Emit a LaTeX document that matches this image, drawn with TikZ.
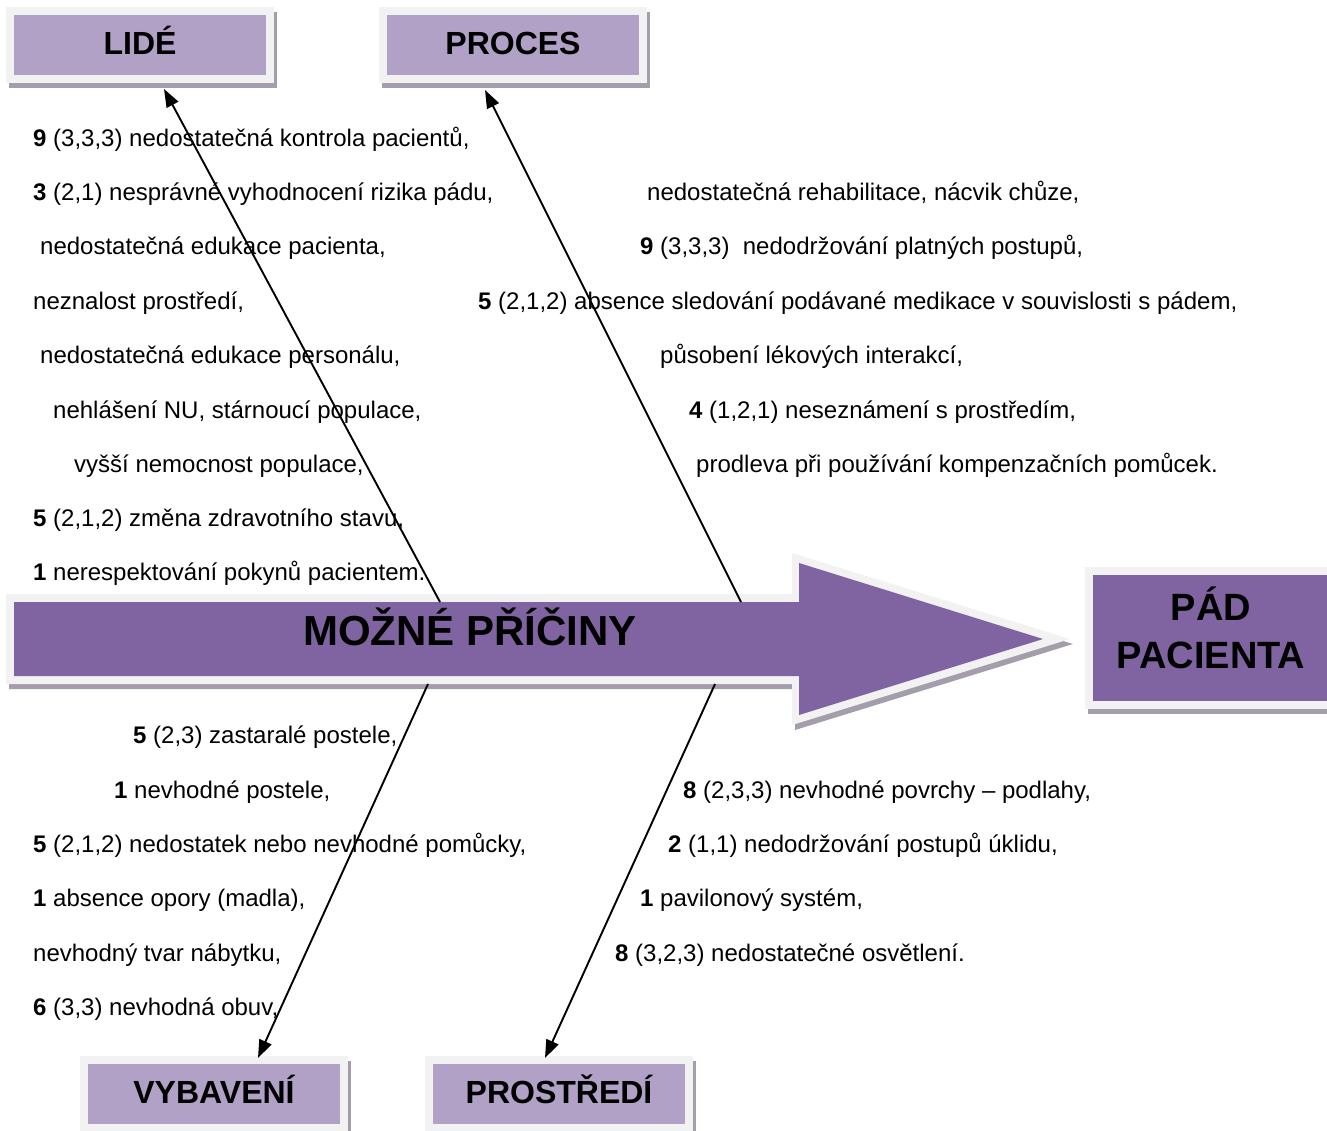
\documentclass[tikz,border=0pt]{standalone}
\usepackage{fontspec}
\setmainfont{Liberation Sans}
\usetikzlibrary{arrows.meta,shadows}
\definecolor{framegray}{RGB}{242,242,242}
\definecolor{shadegray}{RGB}{163,157,172}
\definecolor{catpurple}{RGB}{178,161,199}
\definecolor{mainpurple}{RGB}{128,100,162}

\begin{document}
\begin{tikzpicture}[x=1pt,y=-1pt,
  % light frame with a purple panel inset by 8pt and a soft grey shadow
  panel/.style={fill=framegray, inner sep=0pt,
    drop shadow={shadow xshift=3pt, shadow yshift=-5pt, fill=shadegray, opacity=1},
    path picture={\fill[#1] ([shift={(8pt,8pt)}]path picture bounding box.south west)
      rectangle ([shift={(-8pt,-8pt)}]path picture bounding box.north east);}},
  catbox/.style={panel=catpurple, minimum width=268pt, minimum height=76pt,
    text height=23pt, text depth=4pt,
    font=\bfseries\fontsize{32}{36}\selectfont},
  causetext/.style={anchor=base west, inner sep=0pt, font=\fontsize{24}{28}\selectfont},
  bone/.style={line width=1.9pt, -{Triangle[length=18pt,width=13pt]}}
]
\useasboundingbox (0,0) rectangle (1327,1130);

% category boxes
\node[catbox] (lide)   at (140,45)   {LIDÉ};
\node[catbox] (proces) at (513,45)   {PROCES};
\node[catbox] (vyb)    at (214,1094) {VYBAVENÍ};
\node[catbox] (pros)   at (559,1094) {PROSTŘEDÍ};

% outcome box
\node[panel=mainpurple, minimum width=250pt, minimum height=142pt] (pad) at (1210,638) {};
\node[align=center, inner sep=0pt, font=\bfseries\fontsize{38}{48}\selectfont] (padtext) at (1211,628) {PÁD\\PACIENTA};

% main spine arrow: shadow, light frame, purple body
\fill[shadegray, shift={(3,5)}] (6,594) -- (792,594) -- (792,553) -- (1070,639)
  -- (792,725) -- (792,684) -- (6,684) -- cycle;
\fill[framegray] (6,594) -- (792,594) -- (792,553) -- (1070,639)
  -- (792,725) -- (792,684) -- (6,684) -- cycle;
\fill[mainpurple] (14,602) -- (799,602) -- (799,563) -- (1043,639)
  -- (799,715) -- (799,676) -- (14,676) -- cycle;
\node[font=\bfseries\fontsize{42}{48}\selectfont, inner sep=0pt,
  text height=30pt, text depth=0pt] (spine) at (470,630) {MOŽNÉ PŘÍČINY};

% causes: people
\node[causetext] (l1) at (33,146) {\textbf{9} (3,3,3) nedostatečná kontrola pacientů,};
\node[causetext] (l2) at (33,200) {\textbf{3} (2,1) nesprávné vyhodnocení rizika pádu,};
\node[causetext] (l3) at (40,254) {nedostatečná edukace pacienta,};
\node[causetext] (l4) at (33,309) {neznalost prostředí,};
\node[causetext] (l5) at (40,363) {nedostatečná edukace personálu,};
\node[causetext] (l6) at (53,418) {nehlášení NU, stárnoucí populace,};
\node[causetext] (l7) at (74,472) {vyšší nemocnost populace,};
\node[causetext] (l8) at (33,526) {\textbf{5} (2,1,2) změna zdravotního stavu,};
\node[causetext] (l9) at (33,580) {\textbf{1} nerespektování pokynů pacientem.};

% causes: process
\node[causetext] (p1) at (647,200) {nedostatečná rehabilitace, nácvik chůze,};
\node[causetext] (p2) at (640,254) {\textbf{9} (3,3,3)\ \ nedodržování platných postupů,};
\node[causetext] (p3) at (478,309) {\textbf{5} (2,1,2) absence sledování podávané medikace v souvislosti s pádem,};
\node[causetext] (p4) at (660,363) {působení lékových interakcí,};
\node[causetext] (p5) at (689,418) {\textbf{4} (1,2,1) neseznámení s prostředím,};
\node[causetext] (p6) at (696,472) {prodleva při používání kompenzačních pomůcek.};

% causes: equipment
\node[causetext] (v1) at (133,743)  {\textbf{5} (2,3) zastaralé postele,};
\node[causetext] (v2) at (114,798)  {\textbf{1} nevhodné postele,};
\node[causetext] (v3) at (33,852)   {\textbf{5} (2,1,2) nedostatek nebo nevhodné pomůcky,};
\node[causetext] (v4) at (33,906)   {\textbf{1} absence opory (madla),};
\node[causetext] (v5) at (33,961)   {nevhodný tvar nábytku,};
\node[causetext] (v6) at (33,1015)  {\textbf{6} (3,3) nevhodná obuv,};

% causes: environment
\node[causetext] (e1) at (683,798) {\textbf{8} (2,3,3) nevhodné povrchy – podlahy,};
\node[causetext] (e2) at (668,852) {\textbf{2} (1,1) nedodržování postupů úklidu,};
\node[causetext] (e3) at (640,906) {\textbf{1} pavilonový systém,};
\node[causetext] (e4) at (615,961) {\textbf{8} (3,2,3) nedostatečné osvětlení.};

% bones from the spine to the category boxes
\coordinate (lideFrom)   at (440,602);
\coordinate (lideTo)     at (164,89);
\coordinate (procesFrom) at (741,602);
\coordinate (procesTo)   at (485,90);
\coordinate (vybFrom)    at (428,684);
\coordinate (vybTo)      at (258,1058);
\coordinate (prosFrom)   at (715,684);
\coordinate (prosTo)     at (545,1058);
\draw[bone] (lideFrom) -- (lideTo);
\draw[bone] (procesFrom) -- (procesTo);
\draw[bone] (vybFrom) -- (vybTo);
\draw[bone] (prosFrom) -- (prosTo);
\end{tikzpicture}
\end{document}
